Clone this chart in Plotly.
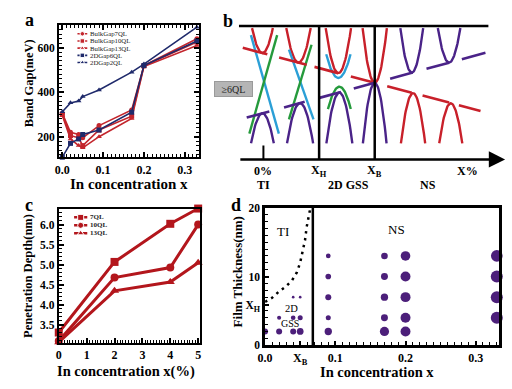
import numpy as np
import plotly.graph_objects as go

# ================= DATA =================
# panel a : band gap vs In concentration
a_x = [0, 0.02, 0.04, 0.05, 0.09, 0.17, 0.20, 0.33]
a_bulk7 = [305, 220, 210, 195, 250, 320, 520, 640]
a_bulk10 = [300, 205, 195, 160, 230, 292, 518, 625]
a_bulk13 = [295, 190, 160, 150, 200, 282, 515, 610]
a_2d6 = [108, 170, 190, 210, 230, 310, 520, 630]
a_2d2 = [312, 352, 360, 380, 410, 490, 526, 692]
a_names = ["BulkGap7QL", "BulkGap10QL", "BulkGap13QL", "2DGap6QL", "2DGap2QL"]

# panel c : penetration depth vs In concentration (%)
c_x = [0, 2, 4, 5]
c_7 = [3.31, 5.07, 6.02, 6.40]
c_10 = [3.10, 4.68, 4.93, 6.00]
c_13 = [3.07, 4.35, 4.57, 5.05]
c_names = ["7QL", "10QL", "13QL"]

# panel d : phase diagram
d_x = [0.0,
       0.02, 0.02,
       0.04, 0.04, 0.04,
       0.05, 0.05, 0.05,
       0.09, 0.09, 0.09, 0.09, 0.09,
       0.17, 0.17, 0.17, 0.17, 0.17,
       0.20, 0.20, 0.20, 0.20, 0.20,
       0.33, 0.33, 0.33, 0.33]
d_thick = [2,
           2, 4,
           2, 4, 7,
           2, 4, 7,
           2, 4, 7, 10, 13,
           2, 4, 7, 10, 13,
           2, 4, 7, 10, 13,
           4, 7, 10, 13]
d_weight = [0.50,
            0.50, 0.34,
            0.50, 0.39, 0.22,
            0.56, 0.42, 0.22,
            0.61, 0.42, 0.50, 0.47, 0.39,
            0.77, 0.58, 0.61, 0.58, 0.55,
            0.83, 0.83, 0.83, 0.83, 0.80,
            1.00, 1.00, 1.00, 0.97]
d_bound_x = [0.0, 0.01, 0.0196, 0.0289, 0.0382, 0.0452, 0.0499, 0.0531, 0.0569, 0.0592, 0.0625, 0.0645]
d_bound_y = [6.3, 6.9, 7.8, 8.5, 9.4, 10.6, 12.0, 13.4, 15.3, 17.2, 19.1, 20.0]
d_xb = 0.068
d_xticks = [0.0, 0.05, 0.1, 0.2, 0.3]
d_xticktext = ["0.0", "X<sub>B</sub>", "0.1", "0.2", "0.3"]
d_yticks = [0, 5.8, 10, 20]
d_yticktext = ["0", "X<sub>H</sub>", "10", "20"]

# panel b : schematic band evolution (arbitrary units)
b_cross_x = 138.3          # X_B
b_xh = 81.7                # X_H
b_x0 = 25.0                # 0 %
b_xpct = 233.0             # X %
b_red_slope = -0.269
b_pur_slope = 0.275
b_red_segs = [(4, 29), (41, 69), (77, 101), (114, 138.3), (151, 176), (187, 214), (224, 246)]
b_pur_segs = [(8, 31), (46, 67), (81, 104), (117, 138.3), (154, 177), (191, 214), (227, 251)]
b_par_center = [24, 24, 60.7, 62.3, 101.3, 101.3, 102.3, 102.3, 138.3, 138.3, 176, 177.3, 214, 215.7]
b_par_apex = [30.7, -31.4, 20.9, -20.9, 10, 5, -4, -10, 0, 0, 10.5, -10.5, 20.9, -21]
b_par_curv = [0.23, 0.23, 0.23, 0.235, 0.28, 0.16, 0.17, 0.30, 0.37, 0.43, 0.34, 0.34, 0.27, 0.30]
b_par_dir = [1, -1, 1, -1, 1, 1, -1, -1, 1, -1, 1, -1, 1, -1]
b_par_limit = [56.5, -62.4, 56.5, -62.4, 56.5, 29.5, -27, -62.4, 56.5, -62.4, 56.5, -62.4, 56.5, -62.4]
b_par_band = ["red", "pur", "red", "pur", "red", "cyan", "green", "pur", "red", "pur", "pur", "red", "pur", "red"]
b_dirac_x = [[12.3, 40.7], [39, 10.7], [51, 76], [74, 51]]
b_dirac_y = [[49.3, -52.4], [49.3, -52.4], [34.3, -37.7], [39.3, -37.7]]
b_dirac_band = ["cyan", "green", "cyan", "green"]
b_top = 58.6
b_bottom = -79.0

# ================= STYLE =================
FONT = "Liberation Serif"
RED_A = "#c3262d"
NAVY = "#1f2a6b"
RED_C = "#b3161c"
PURPLE = "#4c1f7a"
BCOL = {"red": "#c8202a", "pur": "#4a2388", "cyan": "#2b9fd6", "green": "#259a3c"}


def px(x):
    return x / 512.0


def py(y):
    return 1 - y / 389.0


fig = go.Figure()

# ---------- panel a traces ----------
a_series = [(a_bulk7, RED_A, "circle"), (a_bulk10, RED_A, "square"), (a_bulk13, RED_A, "triangle-up"),
            (a_2d6, NAVY, "square"), (a_2d2, NAVY, "triangle-up")]
for (vals, col, sym), name in zip(a_series, a_names):
    fig.add_trace(go.Scatter(x=a_x, y=vals, mode="lines+markers", name=name,
                             line=dict(color=col, width=1.6),
                             marker=dict(color=col, size=5, symbol=sym),
                             cliponaxis=False, xaxis="x", yaxis="y"))

# ---------- panel b traces ----------
for i in range(len(b_par_center)):
    c = b_par_center[i]
    a0 = b_par_apex[i]
    k = b_par_curv[i]
    s = b_par_dir[i]
    hw = np.sqrt(abs(b_par_limit[i] - a0) / k)
    xs = np.linspace(c - hw, c + hw, 41)
    ys = a0 + s * k * (xs - c) ** 2
    fig.add_trace(go.Scatter(x=xs, y=ys, mode="lines", line=dict(color=BCOL[b_par_band[i]], width=2.4),
                             cliponaxis=False, hoverinfo="skip", xaxis="x2", yaxis="y2"))
for xs, ys, band in zip(b_dirac_x, b_dirac_y, b_dirac_band):
    fig.add_trace(go.Scatter(x=xs, y=ys, mode="lines", line=dict(color=BCOL[band], width=2.4),
                             cliponaxis=False, hoverinfo="skip", xaxis="x2", yaxis="y2"))


def edge(segs, slope):
    xs, ys = [], []
    for x0, x1 in segs:
        xs += [x0, x1, None]
        ys += [slope * (x0 - b_cross_x), slope * (x1 - b_cross_x), None]
    return xs, ys


for segs, slope, band in [(b_red_segs, b_red_slope, "red"), (b_pur_segs, b_pur_slope, "pur")]:
    xs, ys = edge(segs, slope)
    fig.add_trace(go.Scatter(x=xs, y=ys, mode="lines", line=dict(color=BCOL[band], width=2.6),
                             cliponaxis=False, hoverinfo="skip", xaxis="x2", yaxis="y2"))

# ---------- panel c traces ----------
c_series = [(c_7, "square"), (c_10, "circle"), (c_13, "triangle-up")]
for (vals, sym), name in zip(c_series, c_names):
    fig.add_trace(go.Scatter(x=c_x, y=vals, mode="lines+markers", name=name,
                             line=dict(color=RED_C, width=3),
                             marker=dict(color=RED_C, size=8, symbol=sym),
                             cliponaxis=False, xaxis="x3", yaxis="y3"))

# ---------- panel d traces ----------
fig.add_trace(go.Scatter(x=d_bound_x, y=d_bound_y, mode="lines",
                         line=dict(color="black", width=2.5, dash="2.5px,4.5px"),
                         hoverinfo="skip", xaxis="x4", yaxis="y4"))
fig.add_trace(go.Scatter(x=d_x, y=d_thick, mode="markers",
                         marker=dict(color=PURPLE, size=[12 * w for w in d_weight], opacity=1,
                                     line=dict(width=0)),
                         cliponaxis=False, xaxis="x4", yaxis="y4"))

# ---------- manual legends (aux axes) ----------
for i, ((vals, col, sym), name) in enumerate(zip(a_series, a_names)):
    fig.add_trace(go.Scatter(x=[0.7, 5.7, 10.7], y=[-i, -i, -i], mode="lines+markers",
                             line=dict(color=col, width=1.6),
                             marker=dict(color=col, size=[0, 4.5, 0], symbol=sym, opacity=1),
                             hoverinfo="skip", cliponaxis=False, xaxis="x5", yaxis="y5"))
for i, ((vals, sym), name) in enumerate(zip(c_series, c_names)):
    fig.add_trace(go.Scatter(x=[2.3, 9.0, 15.7], y=[-i, -i, -i], mode="lines+markers",
                             line=dict(color=RED_C, width=2.5),
                             marker=dict(color=RED_C, size=[0, 6, 0], symbol=sym, opacity=1),
                             hoverinfo="skip", cliponaxis=False, xaxis="x6", yaxis="y6"))

ann = []
for i, name in enumerate(a_names):
    ann.append(dict(x=12.3, y=-i, xref="x5", yref="y5", text=name, showarrow=False, borderpad=0,
                    xanchor="left", yanchor="middle", font=dict(size=6.8, family=FONT, color="#222")))
for i, name in enumerate(c_names):
    ann.append(dict(x=17.3, y=-i, xref="x6", yref="y6", text=name, showarrow=False, borderpad=0,
                    xanchor="left", yanchor="middle", font=dict(size=7, family=FONT, color="#222", weight="bold")))

# axis titles / panel letters
bold = dict(family=FONT, color="black", weight="bold")


def lab(xp, yp, text, size, angle=0):
    return dict(x=px(xp), y=py(yp), xref="paper", yref="paper", text=text, showarrow=False,
                xanchor="center", yanchor="middle", textangle=angle, borderpad=0,
                font=dict(size=size, **bold))


ann += [
    lab(124, 184, "In concentration x", 15),
    lab(22, 80, "Band Gap(meV)", 12.5, -90),
    lab(121, 377.5, "In concentration x(%)", 14.5),
    lab(22, 279, "Penetration Depth(nm)", 12.5, -90),
    lab(377, 377.5, "In concentration x", 14.5),
    lab(235, 274, "Film Thickness(nm)", 13, -90),
    lab(23, 14, "a", 18),
    lab(225, 15, "b", 18),
    lab(22, 205, "c", 18),
    lab(233, 205, "d", 18),
]

# panel b labels
for xv, t in [(b_x0, "0%"), (b_xh, "X<sub>H</sub>"), (b_cross_x, "X<sub>B</sub>"), (b_xpct, "X%")]:
    ann.append(dict(x=xv, y=py(170), xref="x2", yref="paper", text=t, showarrow=False,
                    xanchor="center", yanchor="middle", font=dict(size=12, **bold)))
for xv, t in [(b_x0, "TI"), (111.7, "2D GSS"), (193, "NS")]:
    ann.append(dict(x=xv, y=py(184.5), xref="x2", yref="paper", text=t, showarrow=False,
                    xanchor="center", yanchor="middle", font=dict(size=12, **bold)))
ann.append(dict(x=px(231), y=py(86), xref="paper", yref="paper", text="≥6QL", showarrow=False,
                xanchor="center", yanchor="middle",
                bgcolor="#b5b5b5", bordercolor="#9a9a9a", borderwidth=1, borderpad=1.5, width=34,
                font=dict(size=10, family=FONT, color="#222")))
# arrow of the b axis
ann.append(dict(x=271, y=b_bottom, ax=0, ay=b_bottom, xref="x2", yref="y2", axref="x2", ayref="y2",
                text="", showarrow=True, arrowhead=2, arrowsize=1.3, arrowwidth=2.5, arrowcolor="black",
                standoff=0, startstandoff=0))

# panel d labels
ann += [
    dict(x=0.026, y=16.5, xref="x4", yref="y4", text="TI", showarrow=False, xanchor="center",
         yanchor="middle", font=dict(size=13, family=FONT)),
    dict(x=0.187, y=16.8, xref="x4", yref="y4", text="NS", showarrow=False, xanchor="center",
         yanchor="middle", font=dict(size=13, family=FONT)),
    dict(x=0.037, y=5.4, xref="x4", yref="y4", text="2D", showarrow=False, xanchor="center",
         yanchor="middle", font=dict(size=10.5, family=FONT)),
    dict(x=0.036, y=3.1, xref="x4", yref="y4", text="GSS", showarrow=False, xanchor="center",
         yanchor="middle", font=dict(size=10, family=FONT)),
]

shapes = [
    dict(type="line", xref="x2", yref="y2", x0=0, x1=254, y0=b_top, y1=b_top, line=dict(color="black", width=2.5)),
    dict(type="line", xref="x2", yref="y2", x0=b_xh, x1=b_xh, y0=b_bottom, y1=b_top, line=dict(color="black", width=2.5)),
    dict(type="line", xref="x2", yref="y2", x0=b_cross_x, x1=b_cross_x, y0=b_bottom, y1=b_top, line=dict(color="black", width=2.5)),
    dict(type="line", xref="x2", yref="y2", x0=b_x0, x1=b_x0, y0=b_bottom, y1=b_bottom + 14.3, line=dict(color="black", width=2)),
    dict(type="line", xref="x4", yref="y4", x0=d_xb, x1=d_xb, y0=0, y1=20, line=dict(color="black", width=2.5)),
]

tickf_x = dict(size=12, **bold)
tickf_y = dict(size=11.5, **bold)
common = dict(showgrid=False, zeroline=False, showline=True, linecolor="black", ticks="inside",
              tickcolor="black")

fig.update_layout(
    width=512, height=389, margin=dict(l=0, r=0, t=0, b=0),
    paper_bgcolor="white", plot_bgcolor="white", showlegend=False,
    font=dict(family=FONT, color="black"),
    annotations=ann, shapes=shapes,
    xaxis=dict(domain=[px(53), px(195)], anchor="y", range=[-0.008, 0.334], tick0=0, dtick=0.1,
               tickformat=".1f", linewidth=2, mirror="ticks", ticklen=5, tickwidth=1.5, tickfont=tickf_x,
               minor=dict(dtick=0.01, tick0=0, ticks="inside", ticklen=3, tickwidth=1, tickcolor="black"),
               **common),
    yaxis=dict(domain=[py(156), py(19.3)], anchor="x", range=[108, 703], tick0=0, dtick=200,
               linewidth=2, mirror="ticks", ticklen=5, tickwidth=1.5, tickfont=tickf_y,
               minor=dict(dtick=20, tick0=0, ticks="inside", ticklen=3, tickwidth=1, tickcolor="black"),
               **common),
    xaxis2=dict(domain=[px(236), px(507)], anchor="y2", range=[0, 271], visible=False),
    yaxis2=dict(domain=[py(161), py(18)], anchor="x2", range=[-81.7, 61.3], visible=False),
    xaxis3=dict(domain=[px(52.7), px(196)], anchor="y3", range=[0, 5.05], tick0=0, dtick=1,
                linewidth=2, mirror=True, ticklen=5, tickwidth=1.5, tickfont=tickf_x,
                minor=dict(dtick=0.1, tick0=0, ticks="inside", ticklen=3, tickwidth=1, tickcolor="black"),
                **common),
    yaxis3=dict(domain=[py(347.7), py(209)], anchor="x3", range=[3.05, 6.40], tick0=3.5, dtick=0.5,
                tickformat=".1f", linewidth=2, mirror=True, ticklen=5, tickwidth=1.5, tickfont=tickf_y,
                minor=dict(dtick=0.1, tick0=3.0, ticks="inside", ticklen=3, tickwidth=1, tickcolor="black"),
                **common),
    xaxis4=dict(domain=[px(262.7), px(500.7)], anchor="y4", range=[0, 0.333], tickmode="array",
                tickvals=d_xticks, ticktext=d_xticktext, linewidth=2.5, mirror=True, ticklen=4, tickwidth=1.5,
                tickfont=tickf_x,
                minor=dict(tickmode="linear", dtick=0.01, tick0=0, ticks="inside", ticklen=3, tickwidth=1.2,
                           tickcolor="black"),
                **common),
    yaxis4=dict(domain=[py(350), py(208.3)], anchor="x4", range=[0, 20], tickmode="array",
                tickvals=d_yticks, ticktext=d_yticktext, linewidth=2.5, mirror=True, ticklen=4, tickwidth=1.5,
                tickfont=tickf_y,
                minor=dict(tickmode="linear", dtick=1, tick0=0, ticks="inside", ticklen=3, tickwidth=1.2,
                           tickcolor="black"),
                **common),
    xaxis5=dict(domain=[px(71), px(131)], anchor="y5", range=[0, 60], visible=False),
    yaxis5=dict(domain=[py(62), py(25)], anchor="x5", range=[-4.5, 0.5], visible=False),
    xaxis6=dict(domain=[px(66), px(126)], anchor="y6", range=[0, 60], visible=False),
    yaxis6=dict(domain=[py(238.6), py(214)], anchor="x6", range=[-2.5, 0.5], visible=False),
)

fig.write_html("out.html", config={"displayModeBar": False},
               post_script="document.body.style.margin='0';document.body.style.overflow='hidden';")
